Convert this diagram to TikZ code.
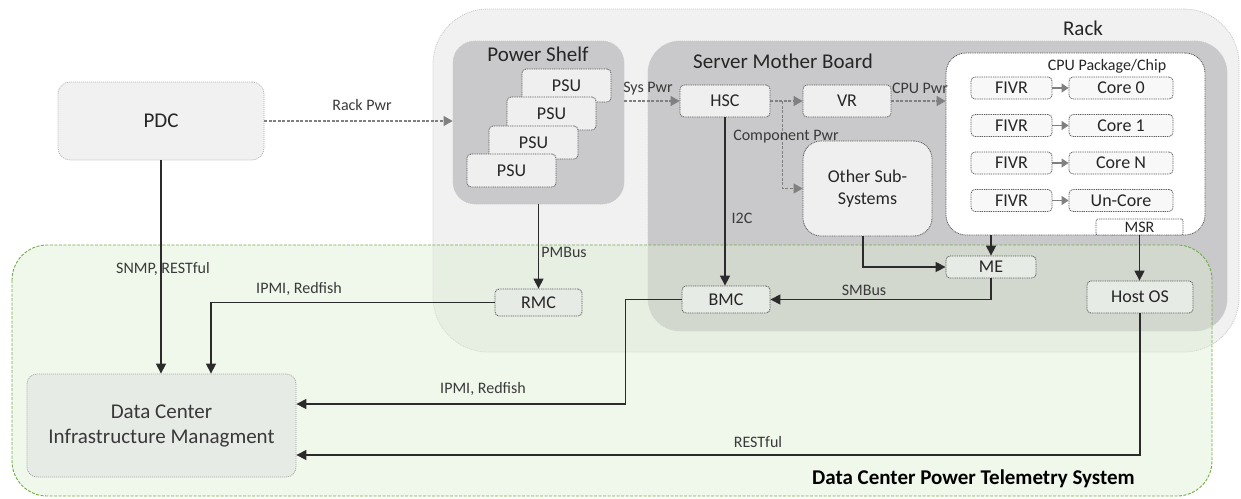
\documentclass[tikz,border=0pt]{standalone}
\usepackage{fontspec}
\setmainfont{Carlito}
\usetikzlibrary{arrows.meta,calc}

\definecolor{rackfill}{HTML}{F1F1F1}
\definecolor{rackline}{HTML}{C8C8C8}
\definecolor{boardfill}{HTML}{C9C8CA}
\definecolor{boxfill}{HTML}{EFEFEF}
\definecolor{chipfill}{HTML}{F8F8F8}
\definecolor{tintfill}{HTML}{E7EBE5}
\definecolor{boxline}{HTML}{5A5A5A}
\definecolor{wire}{HTML}{2B2B2B}
\definecolor{pwr}{HTML}{808080}
\definecolor{lbl}{HTML}{3A3A3A}
\definecolor{dcfill}{HTML}{DDEDD3}
\definecolor{dcline}{HTML}{70AD47}

\tikzset{
  fs/.style={font=\fontsize{#1}{#1}\selectfont},
  container/.style={draw=rackline, dash pattern=on 1pt off 1pt, line width=0.8pt},
  unit/.style={draw=boxline, dash pattern=on 1pt off 0.8pt, line width=0.8pt,
    fill=boxfill, rounded corners=4pt, inner sep=0pt, text=black!85, fs=18},
  chipunit/.style={unit, fill=chipfill},
  tintunit/.style={unit, fill=tintfill},
  tag/.style={text=lbl, fs=16, inner sep=0pt},
  head/.style={text=black!85, fs=21, inner sep=0pt},
  link/.style={draw=wire, line width=1.3pt,
    -{Triangle[length=10pt,width=10pt]}},
  power/.style={draw=pwr, line width=1.2pt, dash pattern=on 3pt off 1.5pt,
    -{Triangle[length=9pt,width=10pt]}},
  minipower/.style={draw=pwr, line width=1.2pt,
    -{Triangle[length=7pt,width=9pt]}},
}

\begin{document}
\begin{tikzpicture}[x=1pt,y=-1pt]
\useasboundingbox (0,0) rectangle (1241,498);

% ---- rack and its two main enclosures ----
\node[container, fill=rackfill, rounded corners=55pt, minimum width=806pt,
  minimum height=343pt, inner sep=0pt] (rack) at (836,180.5) {};
\node[head] (racklbl) at (1083,28) {Rack};

\node[container, draw=boardfill, fill=boardfill, rounded corners=22pt,
  minimum width=171pt, minimum height=163pt, inner sep=0pt] (pshelf) at (538.5,122.5) {};
\node[head] (pshelflbl) at (538,54) {Power Shelf};

\node[container, draw=boardfill, fill=boardfill, rounded corners=32pt,
  minimum width=579pt, minimum height=290pt, inner sep=0pt] (board) at (937.5,186) {};
\node[head] (boardlbl) at (783,61) {Server Mother Board};

% ---- power distribution ----
\node[container, draw=black!30, fill=rackfill, rounded corners=12pt,
  minimum width=206pt, minimum height=78pt, inner sep=0pt, fs=21, text=black!85]
  (pdc) at (161,121) {PDC};

% ---- stacked power supplies ----
\node[unit, minimum width=89pt, minimum height=33pt] (psu1) at (566.5,85.5) {PSU};
\node[unit, minimum width=89pt, minimum height=33pt] (psu2) at (551.5,113.5) {PSU};
\node[unit, minimum width=89pt, minimum height=33pt] (psu3) at (533.5,142.5) {PSU};
\node[unit, minimum width=89pt, minimum height=33pt] (psu4) at (511.5,170.5) {PSU};

% ---- motherboard parts ----
\node[unit, minimum width=90pt, minimum height=32pt] (hsc) at (725,101) {HSC};
\node[unit, minimum width=88pt, minimum height=32pt] (vr) at (847,101) {VR};
\node[unit, rounded corners=18pt, minimum width=129pt, minimum height=95pt,
  align=center] (other) at (867.5,188.5) {Other Sub-\\[4pt]Systems};

\node[unit, fill=white, rounded corners=20pt, minimum width=259pt,
  minimum height=182pt] (cpu) at (1075.5,144) {};
\node[tag, text=black!85] (cpulbl) at (1107,66) {CPU Package/Chip};

\foreach \i/\y/\c in {0/88/Core 0, 1/125.5/Core 1, 2/163/Core N, 3/200.5/Un-Core}{
  \node[chipunit, minimum width=81pt, minimum height=22pt] (fivr\i) at (1011.5,\y) {FIVR};
  \node[chipunit, minimum width=104pt, minimum height=22pt] (core\i) at (1121,\y) {\c};
}
\node[chipunit, fill=white, rounded corners=2pt, minimum width=87pt, minimum height=16pt,
  fs=16] (msr) at (1139.5,227) {MSR};

% ---- telemetry system boundary, tinted over the rack ----
\path[draw=dcline, line width=0.9pt, dash pattern=on 3pt off 1.5pt,
  fill=dcfill, fill opacity=0.45, rounded corners=35pt]
  (12,245) rectangle (1212,496);
\node[anchor=east, font=\bfseries\fontsize{21}{21}\selectfont, inner sep=0pt]
  (dcpts) at (1135,479) {Data Center Power Telemetry System};

% ---- management side ----
\node[container, draw=black!35, fill=tintfill, rounded corners=10pt,
  minimum width=269pt, minimum height=103pt, inner sep=0pt, align=center,
  fs=21, text=black!78] (dcim) at (161.5,425.5) {Data Center\\[4pt]Infrastructure Managment};
\node[tintunit, minimum width=87pt, minimum height=27pt] (rmc) at (538.5,302.5) {RMC};
\node[tintunit, minimum width=88pt, minimum height=27pt] (bmc) at (726,299.5) {BMC};
\node[tintunit, minimum width=90pt, minimum height=22pt] (me) at (991,267) {ME};
\node[tintunit, minimum width=106pt, minimum height=32pt] (hostos) at (1140,297) {Host OS};

% ---- power delivery ----
\draw[power] (pdc.east) -- (pdc.east -| pshelf.west);
\node[tag] (rackpwr) at (362,105) {Rack Pwr};
\draw[power] (pshelf.east |- hsc.west) -- (hsc.west);
\node[tag] (syspwr) at (648,89) {Sys Pwr};
\draw[power] (hsc.east) -- (vr.west);
\draw[power] ($(hsc.east)!0.38!(vr.west)$) |- (other.west);
\node[tag] (comppwr) at (786,137) {Component Pwr};
\draw[power] (vr.east) -- (vr.east -| cpu.west);
\node[tag] (cpupwr) at (920,88) {CPU Pwr};
\foreach \i in {0,...,3}{
  \draw[minipower] (fivr\i.east) -- (core\i.west);
}

% ---- telemetry paths ----
\draw[link] (pdc.south) -- (pdc.south |- dcim.north);
\node[tag] (snmp) at (163,269) {SNMP, RESTful};

\draw[link] (pshelf.south -| rmc.north) -- (rmc.north);
\node[tag] (pmbus) at (564,252) {PMBus};
\draw[link] (rmc.west) -| ([xshift=49.5pt]dcim.north);
\node[tag] (ipmi1) at (299,289) {IPMI, Redfish};

\draw[link] (hsc.south) -- (hsc.south |- bmc.north);
\node[tag] (i2c) at (742,218) {I2C};
\draw[link] (bmc.west) -- ++(-56,0) |- ([yshift=21.5pt]dcim.east);
\node[tag] (ipmi2) at (483,389) {IPMI, Redfish};

\draw[link] ([xshift=-4.5pt]other.south) |- (me.west);
\draw[link] (me.north |- cpu.south) -- (me.north);
\draw[link] (me.south) |- (bmc.east);
\node[tag] (smbus) at (864,290) {SMBus};

\draw[link] (msr.south) -- (msr.south |- hostos.north);
\draw[link] (hostos.south) |- ([yshift=-29.5pt]dcim.east);
\node[tag] (restful) at (758,442) {RESTful};
\end{tikzpicture}
\end{document}
